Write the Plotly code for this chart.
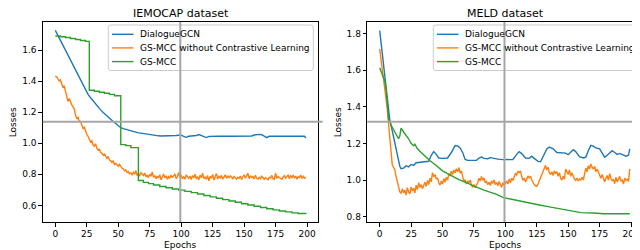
import plotly.graph_objects as go

# ---------------- data ----------------
x_ticks = [0, 25, 50, 75, 100, 125, 150, 175, 200]
x_tick_labels = ["0", "25", "50", "75", "100", "125", "150", "175", "200"]
y_ticks_iemocap = [0.6, 0.8, 1.0, 1.2, 1.4, 1.6]
y_tick_labels_iemocap = ["0.6", "0.8", "1.0", "1.2", "1.4", "1.6"]
y_ticks_meld = [0.8, 1.0, 1.2, 1.4, 1.6, 1.8]
y_tick_labels_meld = ["0.8", "1.0", "1.2", "1.4", "1.6", "1.8"]

series_names = ["DialogueGCN", "GS-MCC without Contrastive Learning", "GS-MCC"]
panel_titles = ["IEMOCAP dataset", "MELD dataset"]
x_label = "Epochs"
y_label = "Losses"

# IEMOCAP - DialogueGCN
iemocap_dgcn_x = [0, 2, 4, 6, 8, 10, 12, 14, 16, 18, 20, 22, 24, 26, 28, 30, 32, 34, 36, 38,
                  40, 42, 44, 46, 48, 50, 52, 54, 56, 58, 60, 62, 64, 66, 68, 70, 72, 74, 76, 78,
                  80, 82, 84, 86, 88, 90, 92, 94, 96, 98, 100, 102, 104, 106, 108, 110, 112, 114,
                  116, 118, 120, 122, 124, 130, 140, 150, 156, 158, 160, 162, 164, 166, 168, 170,
                  172, 180, 190, 196, 198, 199]
iemocap_dgcn_y = [1.727, 1.695, 1.664, 1.632, 1.600, 1.568, 1.537, 1.505, 1.472, 1.442,
                  1.410, 1.378, 1.344, 1.315, 1.293, 1.272, 1.251, 1.234, 1.215, 1.198,
                  1.182, 1.166, 1.153, 1.140, 1.127, 1.112, 1.100, 1.094, 1.089, 1.085,
                  1.081, 1.077, 1.072, 1.067, 1.065, 1.062, 1.060, 1.058, 1.055, 1.052,
                  1.049, 1.048, 1.047, 1.047, 1.047, 1.046, 1.047, 1.048, 1.050, 1.052,
                  1.052, 1.044, 1.038, 1.045, 1.046, 1.047, 1.050, 1.056, 1.049, 1.046,
                  1.037, 1.044, 1.045, 1.046, 1.045, 1.046, 1.047, 1.053, 1.057, 1.057,
                  1.055, 1.048, 1.036, 1.045, 1.046, 1.045, 1.046, 1.046, 1.045, 1.034]

# IEMOCAP - GS-MCC without Contrastive Learning (epochs 0..199)
iemocap_nocl_y = [1.433, 1.428, 1.415, 1.402, 1.408, 1.385, 1.362, 1.371, 1.338, 1.316,
                  1.270, 1.288, 1.262, 1.249, 1.234, 1.222, 1.183, 1.160, 1.166, 1.139,
                  1.141, 1.118, 1.096, 1.102, 1.071, 1.058, 1.045, 1.031, 1.008, 1.016,
                  0.989, 0.982, 0.997, 0.968, 0.957, 0.962, 0.941, 0.935, 0.924, 0.931,
                  0.911, 0.902, 0.915, 0.893, 0.887, 0.876, 0.888, 0.862, 0.871, 0.857,
                  0.851, 0.864, 0.846, 0.839, 0.836, 0.822, 0.829, 0.812, 0.818, 0.803,
                  0.809, 0.797, 0.813, 0.801, 0.824, 0.792, 0.806, 0.788, 0.811, 0.799,
                  0.793, 0.808, 0.784, 0.796, 0.779, 0.801, 0.788, 0.815, 0.781, 0.792,
                  0.771, 0.789, 0.776, 0.798, 0.765, 0.783, 0.802, 0.777, 0.791, 0.768,
                  0.785, 0.774, 0.796, 0.779, 0.788, 0.803, 0.772, 0.786, 0.812, 0.779,
                  0.791, 0.775, 0.784, 0.769, 0.796, 0.781, 0.773, 0.789, 0.766, 0.792,
                  0.778, 0.801, 0.771, 0.786, 0.764, 0.795, 0.779, 0.807, 0.772, 0.783,
                  0.768, 0.792, 0.758, 0.786, 0.775, 0.799, 0.763, 0.784, 0.805, 0.771,
                  0.787, 0.776, 0.793, 0.769, 0.782, 0.797, 0.774, 0.788, 0.779, 0.791,
                  0.783, 0.772, 0.786, 0.778, 0.769, 0.781, 0.775, 0.789, 0.766, 0.784,
                  0.797, 0.775, 0.788, 0.807, 0.772, 0.791, 0.779, 0.785, 0.770, 0.794,
                  0.776, 0.769, 0.781, 0.772, 0.787, 0.775, 0.768, 0.779, 0.772, 0.764,
                  0.781, 0.776, 0.793, 0.771, 0.767, 0.808, 0.774, 0.786, 0.779, 0.772,
                  0.768, 0.783, 0.791, 0.775, 0.788, 0.797, 0.772, 0.790, 0.780, 0.795,
                  0.776, 0.788, 0.769, 0.784, 0.779, 0.795, 0.773, 0.787, 0.775, 0.781]

# IEMOCAP - GS-MCC (step-like)
iemocap_gsmcc_x = [0, 4, 8, 12, 16, 20, 24, 27, 31, 35, 39, 43, 47, 52, 56, 60, 66, 70, 74, 78,
                   83, 88, 93, 98, 103, 108, 113, 118, 123, 128, 133, 138, 143, 148, 153, 158,
                   163, 168, 173, 178, 183, 188, 193, 199]
iemocap_gsmcc_y = [1.691, 1.686, 1.681, 1.675, 1.668, 1.662, 1.656, 1.341, 1.335, 1.329,
                   1.322, 1.315, 1.306, 0.991, 0.985, 0.972, 0.760, 0.748, 0.740, 0.731,
                   0.722, 0.714, 0.706, 0.698, 0.690, 0.682, 0.673, 0.664, 0.655, 0.646,
                   0.637, 0.628, 0.620, 0.611, 0.602, 0.594, 0.586, 0.578, 0.571, 0.564,
                   0.558, 0.552, 0.548, 0.545]

# MELD - DialogueGCN
meld_dgcn_x = [0, 2, 4, 6, 8, 10, 12, 13, 14, 15, 16, 17, 19, 21, 23, 25, 27, 29, 31, 34,
               37, 39, 41, 43, 45, 47, 50, 54, 57, 60, 62, 64, 66, 68, 70, 74, 77, 79, 81, 83,
               86, 88, 91, 94, 98, 103, 106, 109, 111, 113, 116, 119, 121, 123, 126, 128, 131,
               133, 135, 138, 141, 145, 148, 150, 152, 154, 156, 159, 162, 164, 166, 168, 170,
               172, 175, 177, 179, 181, 183, 185, 187, 189, 191, 193, 196, 198, 199]
meld_dgcn_y = [1.815, 1.695, 1.575, 1.455, 1.330, 1.268, 1.205, 1.171, 1.135, 1.100,
               1.075, 1.062, 1.065, 1.078, 1.072, 1.085, 1.080, 1.094, 1.096, 1.098,
               1.100, 1.102, 1.135, 1.155, 1.140, 1.120, 1.118, 1.120, 1.150, 1.188,
               1.186, 1.175, 1.150, 1.112, 1.107, 1.106, 1.108, 1.120, 1.125, 1.118,
               1.116, 1.122, 1.120, 1.114, 1.111, 1.112, 1.112, 1.140, 1.155, 1.144,
               1.120, 1.118, 1.130, 1.118, 1.102, 1.100, 1.140, 1.170, 1.180, 1.170,
               1.150, 1.147, 1.147, 1.138, 1.150, 1.165, 1.155, 1.128, 1.120, 1.125,
               1.160, 1.189, 1.185, 1.175, 1.170, 1.150, 1.125, 1.135, 1.150, 1.160,
               1.150, 1.140, 1.145, 1.138, 1.130, 1.135, 1.170]

# MELD - GS-MCC without Contrastive Learning (epochs 0..199)
meld_nocl_y = [1.715, 1.665, 1.612, 1.560, 1.505, 1.455, 1.390, 1.310, 1.228, 1.150,
               1.082, 1.070, 1.055, 1.020, 0.985, 0.960, 0.935, 0.928, 0.952, 0.930,
               0.945, 0.918, 0.958, 0.935, 0.925, 0.962, 0.940, 0.955, 0.930, 0.972,
               0.948, 0.985, 0.960, 0.975, 0.952, 0.970, 0.988, 0.965, 0.998, 0.975,
               1.010, 0.990, 1.040, 1.018, 1.030, 1.005, 1.012, 0.985, 0.972, 0.995,
               0.978, 1.008, 0.988, 1.015, 1.000, 1.035, 1.022, 1.048, 1.030, 1.055,
               1.040, 1.062, 1.045, 1.068, 1.038, 1.050, 1.020, 0.990, 1.002, 0.978,
               0.995, 0.985, 1.000, 0.970, 0.962, 0.975, 0.958, 0.968, 0.985, 1.010,
               0.995, 1.020, 0.998, 1.012, 0.985, 0.992, 0.975, 0.988, 0.970, 0.995,
               0.982, 1.000, 0.975, 0.988, 0.968, 0.992, 0.972, 0.960, 0.985, 0.970,
               0.982, 0.995, 0.978, 1.005, 0.985, 1.010, 0.998, 1.020, 1.035, 1.028,
               1.048, 1.040, 1.050, 1.020, 0.998, 1.010, 0.990, 1.005, 1.022, 1.012,
               1.020, 1.000, 0.985, 0.975, 0.968, 0.965, 0.978, 0.995, 1.005, 1.030,
               1.045, 1.062, 1.080, 1.055, 1.070, 1.040, 1.030, 1.045, 1.025, 1.050,
               1.035, 1.045, 1.020, 1.040, 1.010, 1.000, 1.020, 1.005, 1.060, 1.045,
               1.030, 1.055, 1.020, 1.040, 1.015, 1.005, 0.998, 1.010, 0.995, 1.005,
               1.000, 1.015, 1.000, 1.030, 1.065, 1.045, 1.078, 1.060, 1.088, 1.070,
               1.060, 1.075, 1.045, 1.060, 1.040, 1.025, 1.010, 1.030, 1.005, 0.990,
               1.010, 1.025, 1.000, 1.035, 1.010, 0.995, 1.005, 0.980, 1.015, 0.990,
               1.005, 1.020, 0.995, 1.000, 0.978, 1.010, 0.998, 1.005, 0.992, 1.060]

# MELD - GS-MCC
meld_gsmcc_x = [0, 2, 4, 5, 6, 7, 9, 11, 13, 15, 16, 17, 19, 21, 23, 25, 27, 28, 30, 33,
                36, 40, 43, 47, 50, 54, 58, 63, 68, 73, 78, 83, 88, 93, 98, 103, 108, 113,
                120, 127, 134, 140, 146, 151, 156, 160, 170, 178, 199]
meld_gsmcc_y = [1.612, 1.580, 1.540, 1.498, 1.400, 1.335, 1.300, 1.275, 1.250, 1.225,
                1.240, 1.283, 1.262, 1.245, 1.225, 1.200, 1.187, 1.195, 1.170, 1.150,
                1.129, 1.105, 1.090, 1.068, 1.050, 1.035, 1.020, 1.002, 0.988, 0.972,
                0.958, 0.945, 0.935, 0.922, 0.905, 0.898, 0.890, 0.880, 0.872, 0.864,
                0.855, 0.847, 0.840, 0.834, 0.828, 0.822, 0.820, 0.816, 0.816]

epochs_full = list(range(200))

# crosshair positions
cross_epoch = 99.3
cross_loss_iemocap = 1.139
cross_loss_meld = 1.318

colors = ["#1f77b4", "#ff7f0e", "#2ca02c"]

# ---------------- layout helpers ----------------
# The page body has an 8px margin, so the figure is placed at (8, 8) in the
# 640x250 window; it is sized to fill exactly the remaining visible area.
OFF = 8
W, H = 640 - OFF, 250 - OFF
FONT = "DejaVu Sans"


def X(px):
    """screen x pixel -> paper coordinate"""
    return (px - OFF) / W


def Y(py):
    """screen y pixel -> paper coordinate"""
    return 1 - (py - OFF) / H


fig = go.Figure()

panels = [
    dict(xa="x", ya="y",
         data=[(iemocap_dgcn_x, iemocap_dgcn_y, "linear"),
               (epochs_full, iemocap_nocl_y, "linear"),
               (iemocap_gsmcc_x, iemocap_gsmcc_y, "hv")]),
    dict(xa="x2", ya="y2",
         data=[(meld_dgcn_x, meld_dgcn_y, "linear"),
               (epochs_full, meld_nocl_y, "linear"),
               (meld_gsmcc_x, meld_gsmcc_y, "linear")]),
]

for p in panels:
    for i, (xs, ys, shape) in enumerate(p["data"]):
        fig.add_trace(go.Scatter(
            x=xs, y=ys, mode="lines", name=series_names[i],
            line=dict(color=colors[i], width=1.4, shape=shape),
            xaxis=p["xa"], yaxis=p["ya"], showlegend=False, hoverinfo="skip"))

axis_common = dict(showline=True, linecolor="black", linewidth=1, ticks="outside",
                   ticklen=3.5, tickwidth=1, tickcolor="black", showgrid=False,
                   zeroline=False, tickfont=dict(family=FONT, size=9, color="black"),
                   fixedrange=True)

fig.update_layout(
    width=W, height=H, margin=dict(l=0, r=0, t=0, b=0),
    paper_bgcolor="white", plot_bgcolor="white",
    font=dict(family=FONT, size=9, color="black"),
    xaxis=dict(domain=[X(42.8), X(318.3)], range=[-9.95, 208.95], anchor="y",
               tickvals=x_ticks, ticktext=x_tick_labels, mirror=True, **axis_common),
    yaxis=dict(domain=[Y(222), Y(22)], range=[0.493, 1.781], anchor="x",
               tickvals=y_ticks_iemocap, ticktext=y_tick_labels_iemocap, mirror=True,
               **axis_common),
    xaxis2=dict(domain=[X(367.2), 1.0], range=[-9.95, 207.15], anchor="y2",
                tickvals=x_ticks, ticktext=x_tick_labels, mirror=True, **axis_common),
    yaxis2=dict(domain=[Y(222), Y(22)], range=[0.771, 1.862], anchor="x2",
                tickvals=y_ticks_meld, ticktext=y_tick_labels_meld, mirror=False,
                **axis_common),
)

shapes = []
annotations = []

# titles and axis labels
for cx, title in zip([180.5, 505.0], panel_titles):
    annotations.append(dict(text=title, x=X(cx), y=Y(13), xref="paper", yref="paper",
                            xanchor="center", yanchor="middle", showarrow=False,
                            font=dict(family=FONT, size=11, color="black")))
for cx in [180.5, 505.0]:
    annotations.append(dict(text=x_label, x=X(cx), y=Y(244.5), xref="paper", yref="paper",
                            xanchor="center", yanchor="middle", showarrow=False,
                            font=dict(family=FONT, size=9, color="black")))
for lx in [13.3, 338.3]:
    annotations.append(dict(text=y_label, x=X(lx), y=Y(122), xref="paper", yref="paper",
                            xanchor="center", yanchor="middle", textangle=-90,
                            showarrow=False, font=dict(family=FONT, size=9, color="black")))


def rounded_box(x0, y0, x1, y1, r=2.5):
    pts = [
        f"M {X(x0 + r)},{Y(y0)}", f"L {X(x1 - r)},{Y(y0)}",
        f"Q {X(x1)},{Y(y0)} {X(x1)},{Y(y0 + r)}", f"L {X(x1)},{Y(y1 - r)}",
        f"Q {X(x1)},{Y(y1)} {X(x1 - r)},{Y(y1)}", f"L {X(x0 + r)},{Y(y1)}",
        f"Q {X(x0)},{Y(y1)} {X(x0)},{Y(y1 - r)}", f"L {X(x0)},{Y(y0 + r)}",
        f"Q {X(x0)},{Y(y0)} {X(x0 + r)},{Y(y0)}", "Z"]
    return " ".join(pts)


# legends (matplotlib-style boxes)
legend_rows = [34.3, 47.9, 61.6]
for bx0, bx1 in [(108.3, 313.3), (433.3, 636.7)]:
    shapes.append(dict(type="path", path=rounded_box(bx0, 25, bx1, 70.5),
                       xref="paper", yref="paper", fillcolor="rgba(255,255,255,0.8)",
                       line=dict(color="#cccccc", width=1), layer="above"))
    for i, ry in enumerate(legend_rows):
        shapes.append(dict(type="line", x0=X(bx0 + 3.6), x1=X(bx0 + 25.2), y0=Y(ry), y1=Y(ry),
                           xref="paper", yref="paper",
                           line=dict(color=colors[i], width=1.4), layer="above"))
        annotations.append(dict(text=series_names[i], x=X(bx0 + 29.4), y=Y(ry),
                                xref="paper", yref="paper", xanchor="left", yanchor="middle",
                                showarrow=False,
                                font=dict(family=FONT, size=9, color="black")))

# grey crosshair lines
grey = "#a6a6a6"
for xa, ya, yv, px0, px1 in [("x", "y", cross_loss_iemocap, 42.8, 322.7),
                             ("x2", "y2", cross_loss_meld, 367.2, 640)]:
    shapes.append(dict(type="line", xref="paper", yref=ya, x0=X(px0), x1=X(px1),
                       y0=yv, y1=yv, line=dict(color=grey, width=2), layer="above"))
    shapes.append(dict(type="line", xref=xa, yref="paper", x0=cross_epoch, x1=cross_epoch,
                       y0=Y(222), y1=Y(22), line=dict(color=grey, width=2), layer="above"))

fig.update_layout(shapes=shapes, annotations=annotations)

fig.write_html("out.html")
